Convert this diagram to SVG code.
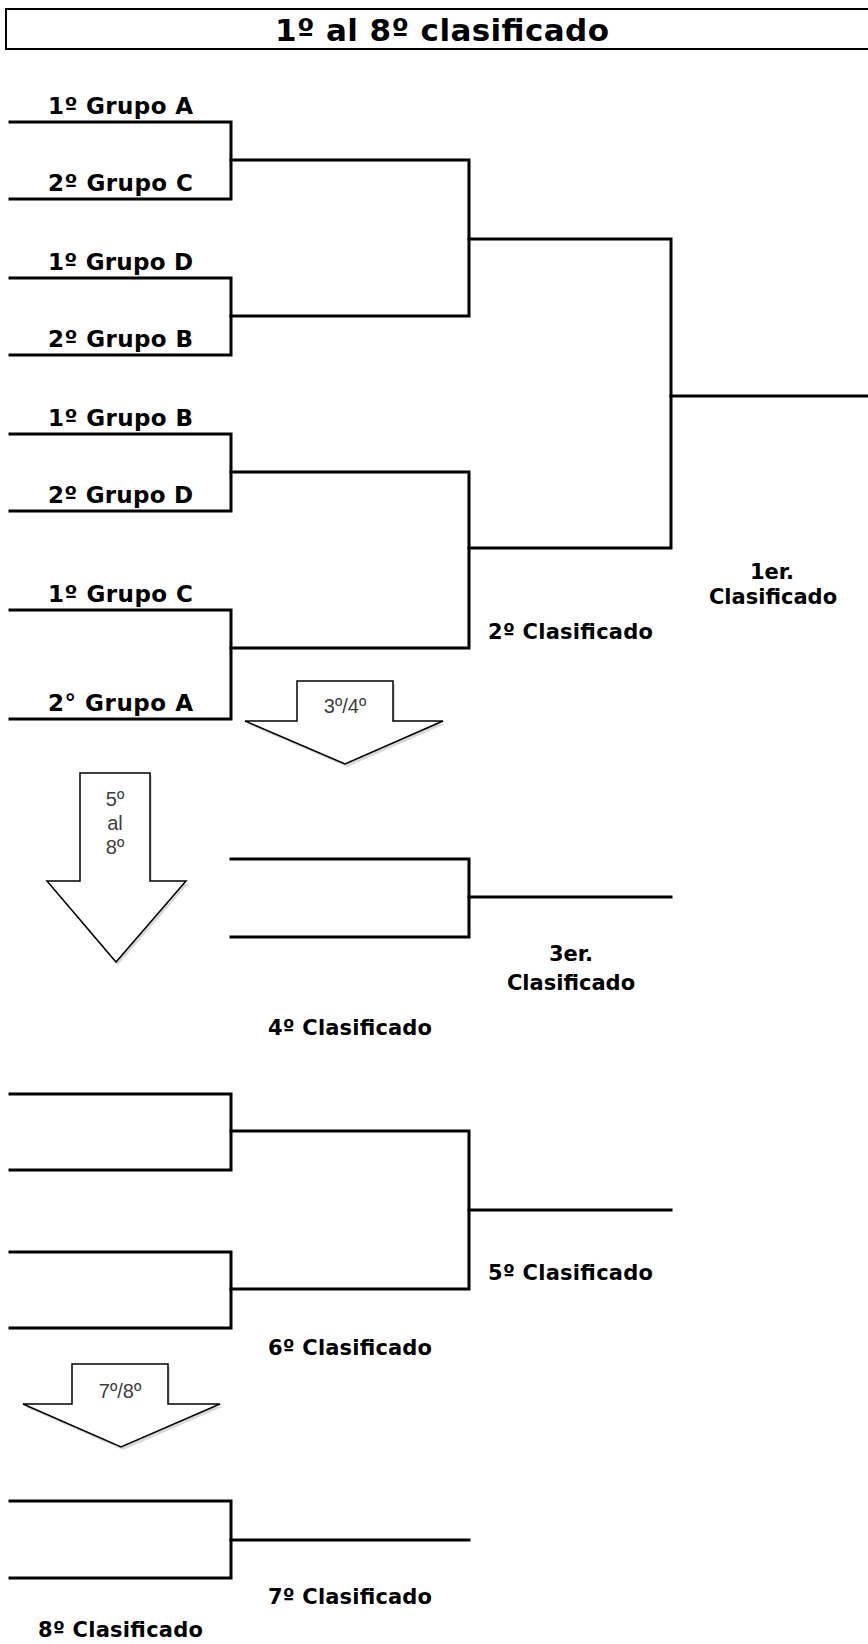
<svg xmlns="http://www.w3.org/2000/svg" width="868" height="1644" viewBox="0 0 868 1644">
<style>
.ln{fill:none;stroke:#000;stroke-width:3;stroke-linecap:square}
.lb{font-family:"DejaVu Sans","Liberation Sans",sans-serif;font-weight:bold;font-size:21px;fill:#000}
.gp{font-size:23px}
.ar{fill:#fff;stroke:#000;stroke-width:1.5}
.sh{fill:#c8c8c8;opacity:0.7}
.at{font-family:"Liberation Sans",Arial,sans-serif;font-size:20px;fill:#404040;text-anchor:middle}
</style>
<rect width="868" height="1644" fill="#fff"/>
<g id="title">
<rect x="6" y="9" width="880" height="40" fill="#fff" stroke="#000" stroke-width="2"/>
<text x="275" y="41" font-family="DejaVu Sans, sans-serif" font-weight="bold" font-size="31" textLength="334">1º al 8º clasificado</text>
</g>
<g id="connectors">
<path class="ln" d="M10 122H231V199H10"/>
<path class="ln" d="M10 278H231V355H10"/>
<path class="ln" d="M10 434H231V511H10"/>
<path class="ln" d="M10 610H231V719H10"/>
<path class="ln" d="M231 160H469V316H231"/>
<path class="ln" d="M231 472H469V648H231"/>
<path class="ln" d="M469 239H671V548H469"/>
<path class="ln" d="M671 396H868"/>
<path class="ln" d="M231 859H469V937H231"/>
<path class="ln" d="M469 897H671"/>
<path class="ln" d="M10 1094H231V1170H10"/>
<path class="ln" d="M10 1252H231V1328H10"/>
<path class="ln" d="M231 1131H469V1289H231"/>
<path class="ln" d="M469 1210H671"/>
<path class="ln" d="M10 1501H231V1578H10"/>
<path class="ln" d="M231 1540H469"/>
</g>
<g id="labels">
<text class="lb gp" x="48" y="114" textLength="145">1º Grupo A</text>
<text class="lb gp" x="48" y="191" textLength="145">2º Grupo C</text>
<text class="lb gp" x="48" y="270" textLength="145">1º Grupo D</text>
<text class="lb gp" x="48" y="347" textLength="145">2º Grupo B</text>
<text class="lb gp" x="48" y="426" textLength="145">1º Grupo B</text>
<text class="lb gp" x="48" y="503" textLength="145">2º Grupo D</text>
<text class="lb gp" x="48" y="602" textLength="145">1º Grupo C</text>
<text class="lb gp" x="48" y="711" textLength="145">2° Grupo A</text>
<text class="lb" x="772" y="579" text-anchor="middle">1er.</text>
<text class="lb" x="773" y="604" text-anchor="middle">Clasificado</text>
<text class="lb" x="488" y="639" textLength="165">2º Clasificado</text>
<text class="lb" x="571" y="961" text-anchor="middle">3er.</text>
<text class="lb" x="571" y="990" text-anchor="middle">Clasificado</text>
<text class="lb" x="268" y="1035" textLength="164">4º Clasificado</text>
<text class="lb" x="488" y="1280" textLength="165">5º Clasificado</text>
<text class="lb" x="268" y="1355" textLength="164">6º Clasificado</text>
<text class="lb" x="268" y="1604" textLength="164">7º Clasificado</text>
<text class="lb" x="38" y="1637" textLength="165">8º Clasificado</text>
</g>
<g id="arrow-3-4">
<path class="sh" d="M299 684H395V724H445L347 767L247 724H299Z"/>
<path class="ar" d="M297 681H393V721H443L345 764L245 721H297Z"/>
<text class="at" x="345" y="713">3º/4º</text>
</g>
<g id="arrow-5-8">
<path class="sh" d="M82 776H152V884H188L118 965L49 884H82Z"/>
<path class="ar" d="M80 773H150V881H186L116 962L47 881H80Z"/>
<text class="at" x="115" y="806">5º</text>
<text class="at" x="115" y="830">al</text>
<text class="at" x="115" y="854">8º</text>
</g>
<g id="arrow-7-8">
<path class="sh" d="M74 1367H170V1407H222L123 1450L25 1407H74Z"/>
<path class="ar" d="M72 1364H168V1404H220L121 1447L23 1404H72Z"/>
<text class="at" x="120" y="1398">7º/8º</text>
</g>
</svg>
